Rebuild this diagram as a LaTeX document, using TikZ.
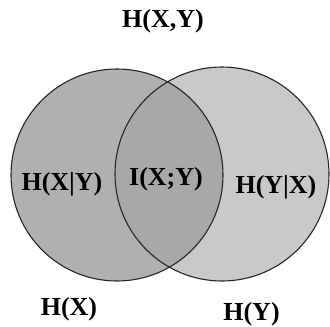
\documentclass[tikz,border=0pt]{standalone}
\usepackage{fontspec}
\setmainfont{Liberation Serif}
\begin{document}
\begin{tikzpicture}[x=1pt,y=-1pt,
  lbl/.style={anchor=base,inner sep=0pt,font=\fontsize{26}{30}\selectfont\bfseries},
  ring/.style={draw=black!85,line width=1.1pt}]
\useasboundingbox (0,0) rectangle (330,327);
\coordinate (cx) at (117,175);
\coordinate (cy) at (222,174);
% fills
\fill[gray!42] (cy) circle (107);
\fill[gray!62] (cx) circle (106);
\begin{scope}
  \clip (cx) circle (106);
  \fill[gray!68] (cy) circle (107);
\end{scope}
\draw[ring] (cy) circle (107);
\draw[ring] (cx) circle (106);
% labels
\node[lbl] (hxy) at (163,27) {H(X,Y)};
\node[lbl] (hxgy) at (62,190) {H(X|Y)};
\node[lbl] (ixy) at (166,185) {I(X;Y)};
\node[lbl] (hygx) at (276,193) {H(Y|X)};
\node[lbl] (hx) at (69,315) {H(X)};
\node[lbl] (hy) at (251.5,320) {H(Y)};
\end{tikzpicture}
\end{document}
